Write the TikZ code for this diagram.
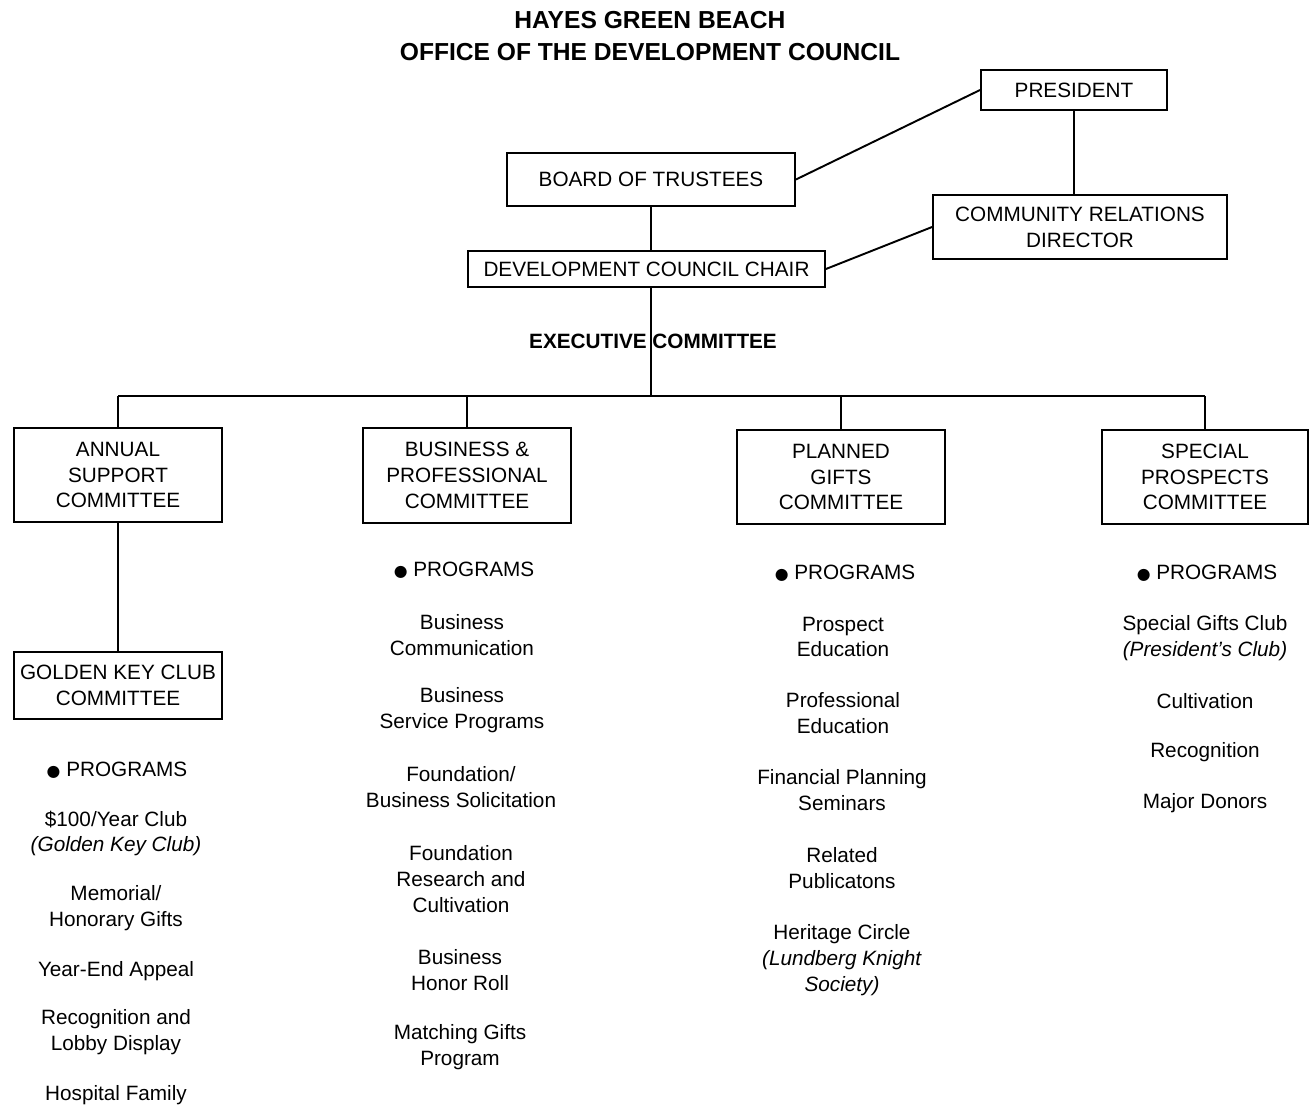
\documentclass[tikz,border=0pt]{standalone}
\usepackage{fontspec}
\setmainfont{Liberation Sans}
\newfontfamily\symfont{DejaVu Sans}
\usepackage{tikz}
\usetikzlibrary{positioning}

\newcommand{\prog}{{\symfont\small ●} PROGRAMS}

\begin{document}
\begin{tikzpicture}[
            x=0.02cm, y=-0.02cm,
            every node/.style={font=\fontsize{11.8}{14.7}\selectfont},
            box/.style={draw,line width=1.1pt,align=center,inner sep=0pt},
            orgline/.style={draw,line width=1.1pt},
            item/.style={align=center,inner sep=0pt},
            heading/.style={align=center,inner sep=0pt,font=\fontsize{14}{18.1}\selectfont\bfseries},
        ]
            \useasboundingbox (0,0) rectangle (1311,1105);

            %--- Title ---%
            \node[heading] (title) at (650,36) {HAYES GREEN BEACH\\OFFICE OF THE DEVELOPMENT COUNCIL};

            %--- Top of the chart ---%
            \node[box,minimum width=3.72cm,minimum height=0.8cm] (pres) at (1074,90) {PRESIDENT};
            \node[box,minimum width=5.76cm,minimum height=1.06cm] (board) at (651,179.5) {BOARD OF TRUSTEES};
            \node[box,minimum width=5.88cm,minimum height=1.28cm] (crd) at (1080,227) {COMMUNITY RELATIONS\\DIRECTOR};
            \node[box,minimum width=7.14cm,minimum height=0.72cm] (chair) at (646.5,269) {DEVELOPMENT COUNCIL CHAIR};
            \node[item,font=\fontsize{11.8}{14.7}\selectfont\bfseries] (exec) at (653,341) {EXECUTIVE COMMITTEE};
            \coordinate (trunk) at (651,396);

            %--- Committees ---%
            \node[box,minimum width=4.16cm,minimum height=1.88cm] (annual) at (118,475) {ANNUAL\\SUPPORT\\COMMITTEE};
            \node[box,minimum width=4.16cm,minimum height=1.9cm] (busprof) at (467,475.5) {BUSINESS \&\\PROFESSIONAL\\COMMITTEE};
            \node[box,minimum width=4.16cm,minimum height=1.88cm] (planned) at (841,477) {PLANNED\\GIFTS\\COMMITTEE};
            \node[box,minimum width=4.12cm,minimum height=1.88cm] (special) at (1205,477) {SPECIAL\\PROSPECTS\\COMMITTEE};
            \node[box,minimum width=4.16cm,minimum height=1.34cm] (golden) at (118,685.5) {GOLDEN KEY CLUB\\COMMITTEE};

            %--- Connectors ---%
            \draw[orgline] (pres.west) -- (board.east);
            \draw[orgline] (pres.south) -- (pres.south |- crd.north);
            \draw[orgline] (board.south) -- (board.south |- chair.north);
            \draw[orgline] (crd.west) -- (chair.east);
            \draw[orgline] (chair.south -| trunk) -- (trunk);
            \draw[orgline] (annual.north |- trunk) -- (special.north |- trunk);
            \foreach \c in {annual,busprof,planned,special}
                \draw[orgline] (\c.north |- trunk) -- (\c.north);
            \draw[orgline] (annual.south) -- (golden.north);

            %--- Annual support programs ---%
            \node[item] (aprog) at (117,770) {\prog};
            \node[item] (a1) at (116,833.5) {\$100/Year Club\\\textit{(Golden Key Club)}};
            \node[item] (a2) at (116,908.5) {Memorial/\\Honorary Gifts};
            \node[item] (a3) at (116,971) {Year-End Appeal};
            \node[item] (a4) at (116,1032.5) {Recognition and\\Lobby Display};
            \node[item] (a5) at (116,1095) {Hospital Family};

            %--- Business & professional programs ---%
            \node[item] (bprog) at (464,570) {\prog};
            \node[item] (b1) at (462,635) {Business\\Communication};
            \node[item] (b2) at (462,710.5) {Business\\Service Programs};
            \node[item] (b3) at (461,787) {Foundation/\\Business Solicitation};
            \node[item] (b4) at (461,879) {Foundation\\Research and\\Cultivation};
            \node[item] (b5) at (460,970) {Business\\Honor Roll};
            \node[item] (b6) at (460,1047.5) {Matching Gifts\\Program};

            %--- Planned gifts programs ---%
            \node[item] (pprog) at (845,573) {\prog};
            \node[item] (p1) at (843,637) {Prospect\\Education};
            \node[item] (p2) at (843,713) {Professional\\Education};
            \node[item] (p3) at (842,790) {Financial Planning\\Seminars};
            \node[item] (p4) at (842,868) {Related\\Publicatons};
            \node[item] (p5) at (842,960) {Heritage Circle\\\textit{(Lundberg Knight}\\\textit{Society)}};

            %--- Special prospects programs ---%
            \node[item] (sprog) at (1207,573) {\prog};
            \node[item] (s1) at (1205,638) {Special Gifts Club\\\textit{(President's Club)}};
            \node[item] (s2) at (1205,701) {Cultivation};
            \node[item] (s3) at (1205,752) {Recognition};
            \node[item] (s4) at (1205,803) {Major Donors};

        \end{tikzpicture}
\end{document}
